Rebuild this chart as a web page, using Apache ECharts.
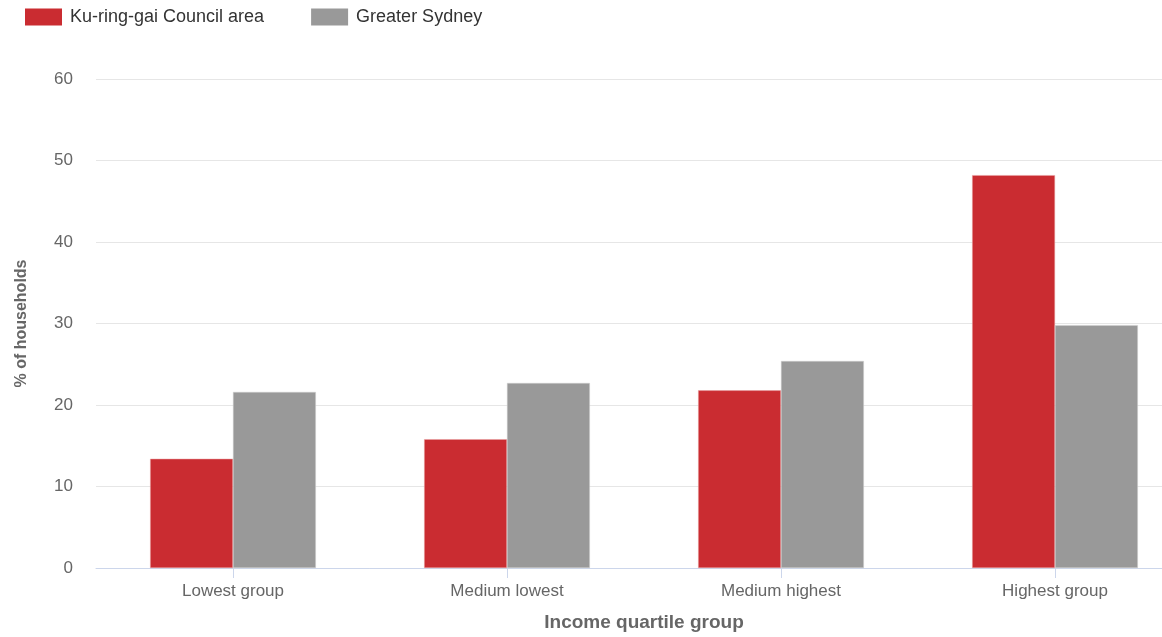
<!DOCTYPE html>
<html>
<head>
<meta charset="utf-8">
<script src="https://cdn.jsdelivr.net/npm/echarts@6/dist/echarts.min.js"></script>
<style>
  html, body { margin: 0; padding: 0; background: #ffffff; overflow: hidden; }
  /* the plot runs past the right edge of the window, so the canvas is wider than the view */
  #chart { width: 1192px; height: 637px; }
</style>
</head>
<body>
<div id="chart"></div>
<script>
// Household income quartiles, Ku-ring-gai vs Greater Sydney
const categories = ['Lowest group', 'Medium lowest', 'Medium highest', 'Highest group'];
const kuringgai = [13.4, 15.8, 21.8, 48.2];
const greaterSydney = [21.6, 22.7, 25.4, 29.8];
const yTicks = [0, 10, 20, 30, 40, 50, 60];

const FONT = '"Liberation Sans", Arial, sans-serif';

const chart = echarts.init(document.getElementById('chart'), null, { renderer: 'canvas' });

chart.setOption({
  animation: false,
  textStyle: { fontFamily: FONT },
  legend: {
    left: 20,
    top: 3,
    itemWidth: 37,
    itemHeight: 17,
    itemGap: 47,
    icon: 'rect',
    itemStyle: { borderWidth: 0 },
    textStyle: { fontSize: 18, color: '#333333', fontFamily: FONT, padding: [0, 0, 0, 3] },
    data: ['Ku-ring-gai Council area', 'Greater Sydney']
  },
  grid: {
    left: 96,
    right: 0,
    top: 79,
    bottom: 68 - 9,
    containLabel: false
  },
  xAxis: {
    type: 'category',
    data: categories,
    name: 'Income quartile group',
    nameLocation: 'middle',
    nameGap: 45,
    nameTextStyle: { fontSize: 19, fontWeight: 'bold', color: '#666666', fontFamily: FONT },
    axisLine: { lineStyle: { color: '#ccd6eb', width: 1 } },
    axisTick: { show: true, alignWithLabel: true, length: 10, lineStyle: { color: '#ccd6eb' } },
    axisLabel: { fontSize: 17, color: '#666666', margin: 15, fontFamily: FONT }
  },
  yAxis: {
    type: 'value',
    min: yTicks[0],
    max: yTicks[yTicks.length - 1],
    interval: 10,
    name: '% of households',
    nameLocation: 'middle',
    nameGap: 66,
    nameTextStyle: { fontSize: 16, fontWeight: 'bold', color: '#666666', fontFamily: FONT },
    axisLine: { show: false },
    axisTick: { show: false },
    axisLabel: { fontSize: 17, color: '#666666', margin: 23, fontFamily: FONT },
    splitLine: { lineStyle: { color: '#e6e6e6', width: 1 } }
  },
  series: [
    {
      name: 'Ku-ring-gai Council area',
      type: 'bar',
      data: kuringgai,
      barGap: '0%',
      barCategoryGap: '39.5%',
      itemStyle: { color: '#ca2c31', borderColor: '#e8a0a3', borderWidth: 0.5 }
    },
    {
      name: 'Greater Sydney',
      type: 'bar',
      data: greaterSydney,
      barGap: '0%',
      barCategoryGap: '39.5%',
      itemStyle: { color: '#999999', borderColor: '#cfcfcf', borderWidth: 0.5 }
    }
  ]
});
</script>
</body>
</html>
